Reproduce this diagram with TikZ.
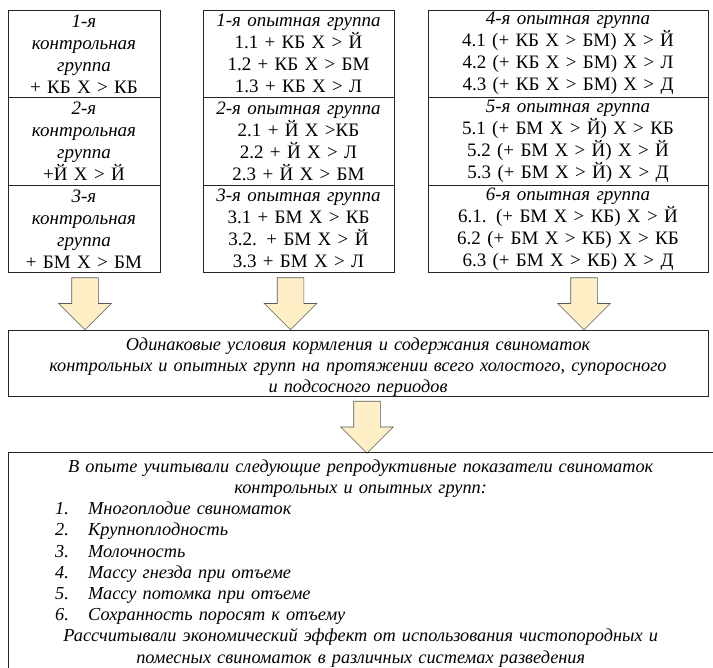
\documentclass[tikz,border=0pt]{standalone}
\usepackage{fontspec}
\setmainfont{Liberation Serif}
\usepackage{xcolor}
\usetikzlibrary{positioning, shapes.arrows, calc}

\definecolor{arrowfill}{RGB}{255,239,198}

\begin{document}
\begin{tikzpicture}[
        x=1pt, y=1pt,
        node distance=0pt and 0pt,
        every node/.style={font=\fontsize{19}{22}\selectfont},
        cell/.style={rectangle, draw=black!85, line width=0.8pt, outer sep=0pt, inner sep=0pt, minimum height=87.5pt, align=center},
        ctl/.style={cell, minimum width=152pt, text width=150pt},
        expl/.style={cell, minimum width=191pt, text width=189pt},
        expr/.style={cell, minimum width=280pt, text width=278pt},
        note/.style={font=\fontsize{18.3}{21.2}\selectfont\itshape},
        blockarr/.style={single arrow, draw=black!65, line width=0.6pt, fill=arrowfill, rotate=-90, anchor=tail,
            inner xsep=0pt, inner ysep=13pt, single arrow head extend=13pt, minimum height=52pt}
    ]
        \useasboundingbox (0,0) rectangle (713,-668);
        \clip (0,0) rectangle (713,-668);

        \node[ctl, anchor=north west] (ctl1) at (8,-10) {\textit{1-я}\\ \textit{контрольная}\\ \textit{группа}\\ + КБ Х > КБ};
        \node[ctl, below=of ctl1] (ctl2) {\textit{2-я}\\ \textit{контрольная}\\ \textit{группа}\\ +Й Х > Й};
        \node[ctl, below=of ctl2] (ctl3) {\textit{3-я}\\ \textit{контрольная}\\ \textit{группа}\\ + БМ Х > БМ};

        \node[expl, anchor=north west] (exp1) at (203,-10) {\textit{1-я опытная группа}\\ 1.1 + КБ Х > Й\\ 1.2 + КБ Х > БМ\\ 1.3 + КБ Х > Л};
        \node[expl, below=of exp1] (exp2) {\textit{2-я опытная группа}\\ 2.1 + Й Х >КБ\\ 2.2 + Й Х > Л\\ 2.3 + Й Х > БМ};
        \node[expl, below=of exp2] (exp3) {\textit{3-я опытная группа}\\ 3.1 + БМ Х > КБ\\ 3.2. + БМ Х > Й\\ 3.3 + БМ Х > Л};

        \node[expr, anchor=north west] (exp4) at (428,-10) {\textit{4-я опытная группа}\\ 4.1 (+ КБ Х > БМ) Х > Й\\ 4.2 (+ КБ Х > БМ) Х > Л\\ 4.3 (+ КБ Х > БМ) Х > Д};
        \node[expr, below=of exp4] (exp5) {\textit{5-я опытная группа}\\ 5.1 (+ БМ Х > Й) Х > КБ\\ 5.2 (+ БМ Х > Й) Х > Й\\ 5.3 (+ БМ Х > Й) Х > Д};
        \node[expr, below=of exp5] (exp6) {\textit{6-я опытная группа}\\ 6.1. (+ БМ Х > КБ) Х > Й\\ 6.2 (+ БМ Х > КБ) Х > КБ\\ 6.3 (+ БМ Х > КБ) Х > Д};

        \node[cell, note, anchor=north west, minimum width=700pt, text width=698pt, minimum height=66pt, text depth=38pt] (cond) at (8,-330)
            {Одинаковые условия кормления и содержания свиноматок\\ контрольных и опытных групп на протяжении всего холостого, супоросного\\ и подсосного периодов};

        \node[blockarr] (arr1) at ($(ctl3.south)+(1,-5)$) {};
        \node[blockarr] (arr2) at ($(exp3.south)+(-8,-5)$) {};
        \node[blockarr] (arr3) at ($(exp6.south)+(16,-5)$) {};
        \node[blockarr] (arr4) at ($(cond.south)+(9,-5)$) {};

        \node[note, anchor=north west, inner xsep=0pt, inner ysep=7.5pt, text width=705pt] (res) at (8,-452) {%
            \centering В опыте учитывали следующие репродуктивные показатели свиноматок\\ контрольных и опытных групп:\par
            \raggedright
            \hspace*{47pt}\makebox[33pt][l]{1.}Многоплодие свиноматок\\
            \hspace*{47pt}\makebox[33pt][l]{2.}Крупноплодность\\
            \hspace*{47pt}\makebox[33pt][l]{3.}Молочность\\
            \hspace*{47pt}\makebox[33pt][l]{4.}Массу гнезда при отъеме\\
            \hspace*{47pt}\makebox[33pt][l]{5.}Массу потомка при отъеме\\
            \hspace*{47pt}\makebox[33pt][l]{6.}Сохранность поросят к отъему\par
            \centering Рассчитывали экономический эффект от использования чистопородных и\\ помесных свиноматок в различных системах разведения\par};
        \draw[draw=black!85, line width=0.8pt] ([yshift=-30pt]res.south west) -- (res.north west) -- ([xshift=20pt]res.north east);

\end{tikzpicture}
\end{document}
